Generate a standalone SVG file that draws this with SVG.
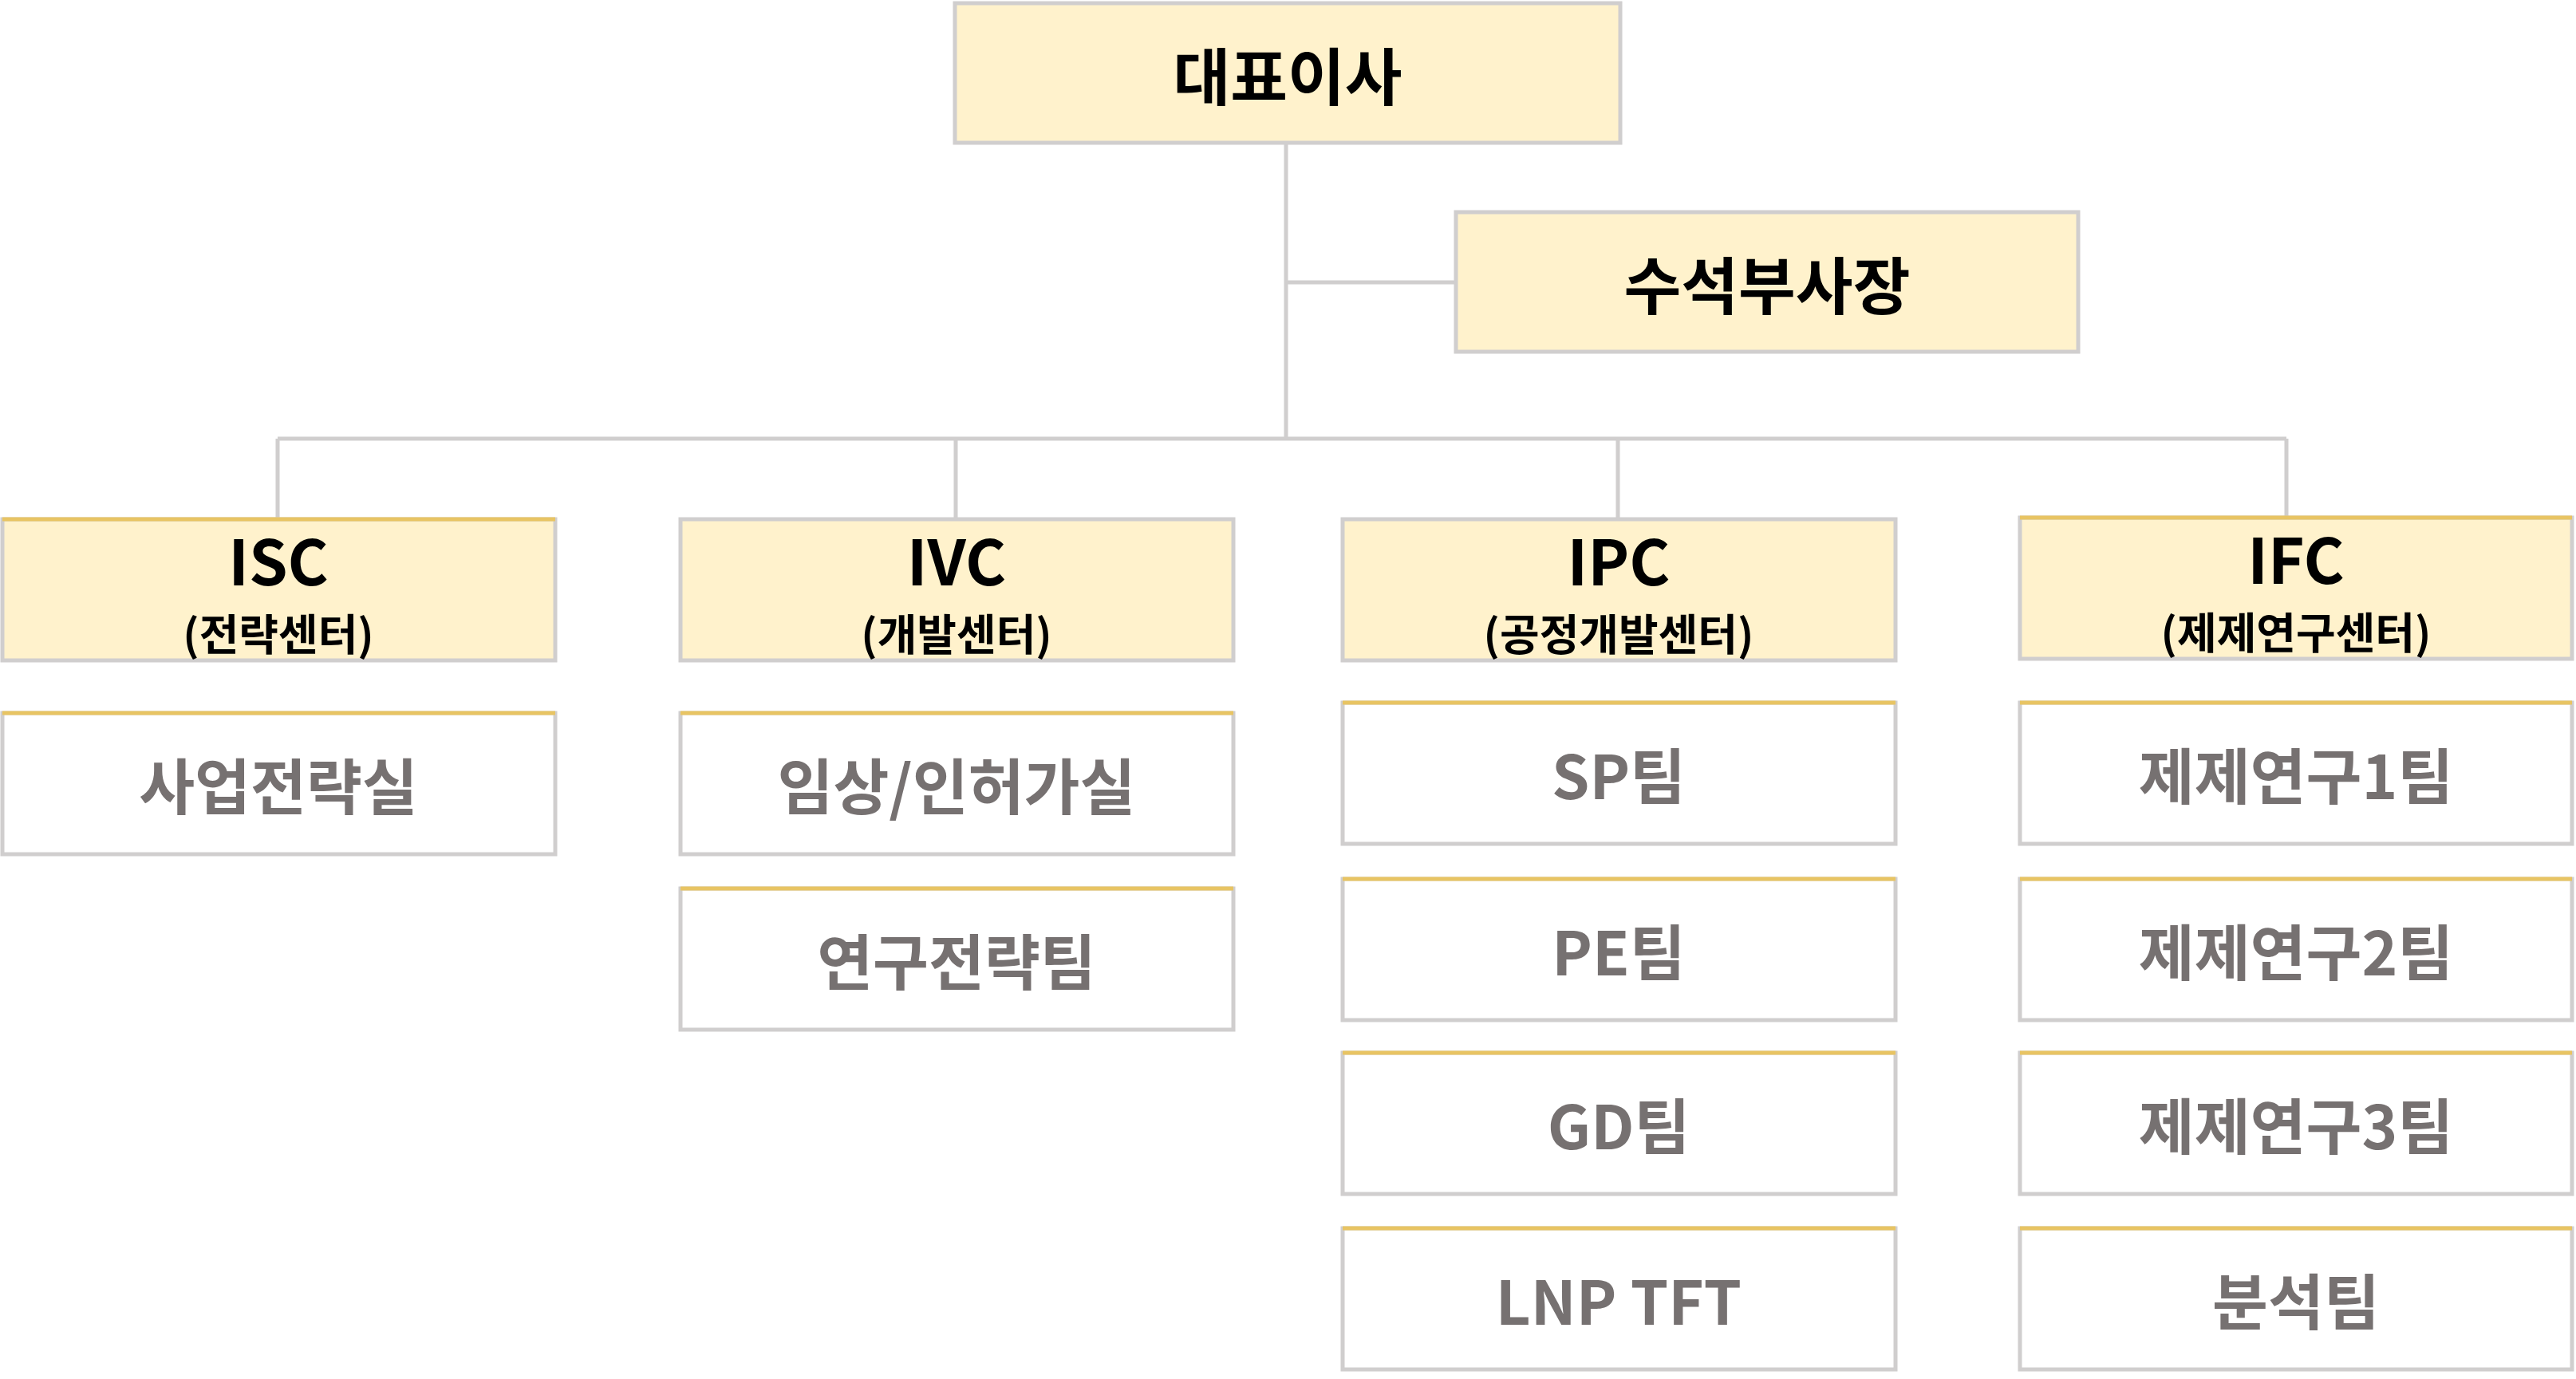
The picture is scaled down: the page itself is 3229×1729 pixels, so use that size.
<svg xmlns="http://www.w3.org/2000/svg" width="3229" height="1729" viewBox="0 0 3229 1729">
<style>
.h{fill:#FFF2CC;stroke:#D0CECE;stroke-width:5}
.s{fill:#FFFFFF;stroke:#D0CECE;stroke-width:5}
.g{stroke:#E8C463;stroke-width:5}
.c{stroke:#D0CECE;stroke-width:5;fill:none}
text{font-family:"Noto Sans CJK KR","Noto Sans",sans-serif;font-weight:bold;text-anchor:middle;dominant-baseline:central}
.t1{font-size:78px;fill:#000}
.t2{font-size:54px;fill:#000}
.t3{font-size:76px;fill:#767171}
</style>
<rect width="3229" height="1729" fill="#fff"/>
<g id="connectors">
<path class="c" d="M1612 179V550M1612 354H1824M348 550H2866M348 550V651M1198 550V651M2028 550V651M2866 550V651"/>
</g>
<g id="ceo"><rect class="h" x="1197" y="4" width="834" height="175"/><text class="t1" x="1614" y="92">대표이사</text></g>
<g id="svp"><rect class="h" x="1825" y="266" width="780" height="175"/><text class="t1" x="2215" y="354">수석부사장</text></g>
<g id="isc"><rect class="h" x="3" y="651" width="693" height="177"/><line class="g" x1="3" y1="651" x2="696" y2="651"/><text class="t1" x="349" y="700">ISC</text><text class="t2" x="349" y="792">(전략센터)</text></g>
<g id="ivc"><rect class="h" x="853" y="651" width="693" height="177"/><text class="t1" x="1199" y="700">IVC</text><text class="t2" x="1199" y="792">(개발센터)</text></g>
<g id="ipc"><rect class="h" x="1683" y="651" width="693" height="177"/><text class="t1" x="2029" y="700">IPC</text><text class="t2" x="2029" y="792">(공정개발센터)</text></g>
<g id="ifc"><rect class="h" x="2532" y="649" width="692" height="177"/><line class="g" x1="2532" y1="649" x2="3224" y2="649"/><text class="t1" x="2878" y="698">IFC</text><text class="t2" x="2878" y="790">(제제연구센터)</text></g>
<g id="s1"><rect class="s" x="3" y="894" width="693" height="177"/><line class="g" x1="3" y1="894" x2="696" y2="894"/><text class="t3" x="349" y="982">사업전략실</text></g>
<g id="s2"><rect class="s" x="853" y="894" width="693" height="177"/><line class="g" x1="853" y1="894" x2="1546" y2="894"/><text class="t3" x="1199" y="982">임상/인허가실</text></g>
<g id="s3"><rect class="s" x="853" y="1114" width="693" height="177"/><line class="g" x1="853" y1="1114" x2="1546" y2="1114"/><text class="t3" x="1199" y="1202">연구전략팀</text></g>
<g id="p1"><rect class="s" x="1683" y="881" width="693" height="177"/><line class="g" x1="1683" y1="881" x2="2376" y2="881"/><text class="t3" x="2029" y="969">SP팀</text></g>
<g id="p2"><rect class="s" x="1683" y="1102" width="693" height="177"/><line class="g" x1="1683" y1="1102" x2="2376" y2="1102"/><text class="t3" x="2029" y="1190">PE팀</text></g>
<g id="p3"><rect class="s" x="1683" y="1320" width="693" height="177"/><line class="g" x1="1683" y1="1320" x2="2376" y2="1320"/><text class="t3" x="2029" y="1408">GD팀</text></g>
<g id="p4"><rect class="s" x="1683" y="1540" width="693" height="177"/><line class="g" x1="1683" y1="1540" x2="2376" y2="1540"/><text class="t3" x="2029" y="1628">LNP TFT</text></g>
<g id="f1"><rect class="s" x="2532" y="881" width="692" height="177"/><line class="g" x1="2532" y1="881" x2="3224" y2="881"/><text class="t3" x="2878" y="969">제제연구1팀</text></g>
<g id="f2"><rect class="s" x="2532" y="1102" width="692" height="177"/><line class="g" x1="2532" y1="1102" x2="3224" y2="1102"/><text class="t3" x="2878" y="1190">제제연구2팀</text></g>
<g id="f3"><rect class="s" x="2532" y="1320" width="692" height="177"/><line class="g" x1="2532" y1="1320" x2="3224" y2="1320"/><text class="t3" x="2878" y="1408">제제연구3팀</text></g>
<g id="f4"><rect class="s" x="2532" y="1540" width="692" height="177"/><line class="g" x1="2532" y1="1540" x2="3224" y2="1540"/><text class="t3" x="2878" y="1628">분석팀</text></g>
</svg>
